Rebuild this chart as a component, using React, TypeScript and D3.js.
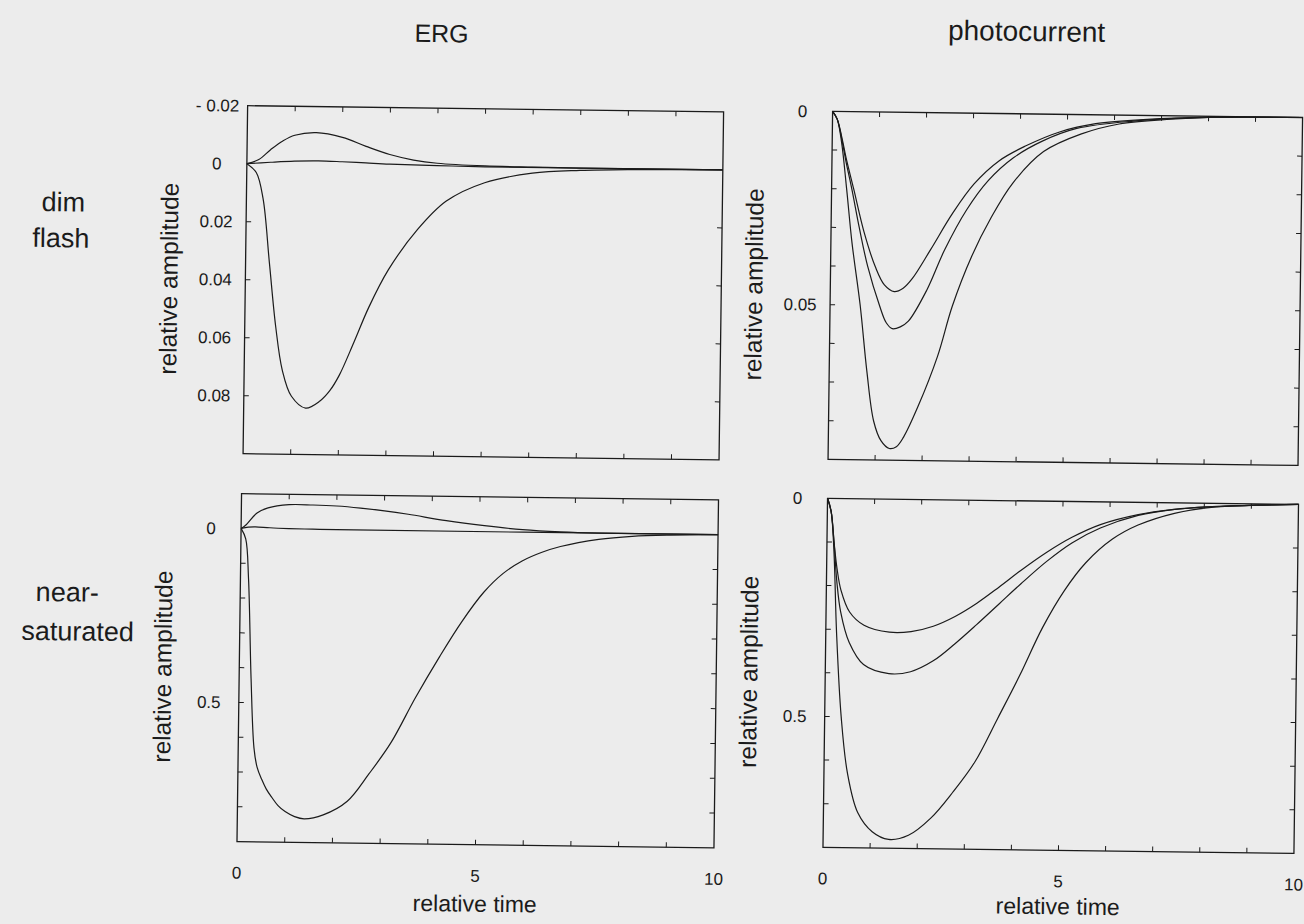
import React from 'react'
import * as d3 from 'd3'

// ---- data (time in relative units, amplitude positive downward) ----

// ERG, dim flash
const ergDimBigT = [0, 0.2, 0.35, 0.5, 0.65, 0.8, 1.0, 1.3, 1.6, 1.8, 2.0, 2.3, 2.6, 3.0, 3.6, 4.2, 5.0, 6.0, 7.0, 8.0, 10]
const ergDimBigV = [0, 0.003, 0.012, 0.034, 0.056, 0.071, 0.080, 0.084, 0.0815, 0.078, 0.0725, 0.061, 0.049, 0.036, 0.022, 0.012, 0.0055, 0.002, 0.0008, 0.0003, 0]
const ergDimHumpT = [0, 0.25, 0.5, 0.75, 1.0, 1.45, 2.0, 2.5, 3.0, 3.5, 4.0, 5.0, 6.0, 7.0, 10]
const ergDimHumpV = [0, -0.0015, -0.005, -0.008, -0.010, -0.011, -0.0095, -0.0065, -0.0038, -0.002, -0.001, -0.0003, -0.0001, 0, 0]
const ergDimSmallT = [0, 0.5, 1.0, 1.5, 2.0, 2.5, 3.0, 4.0, 5.0, 10]
const ergDimSmallV = [0, -0.0006, -0.0011, -0.0013, -0.0011, -0.0008, -0.0005, -0.0002, 0, 0]

// ERG, near-saturated
const ergSatBigT = [0, 0.1, 0.17, 0.25, 0.33, 0.4, 0.5, 0.6, 0.72, 0.85, 1.0, 1.2, 1.4, 1.8, 2.3, 2.75, 3.2, 3.7, 4.2, 4.65, 5.1, 5.5, 5.9, 6.3, 6.7, 7.5, 8.2, 9.0, 10]
const ergSatBigV = [0, 0.03, 0.145, 0.43, 0.63, 0.685, 0.72, 0.748, 0.772, 0.795, 0.812, 0.826, 0.832, 0.82, 0.78, 0.70, 0.61, 0.48, 0.36, 0.26, 0.175, 0.12, 0.083, 0.058, 0.04, 0.018, 0.008, 0.003, 0]
const ergSatHumpT = [0, 0.1, 0.33, 0.56, 1.0, 1.5, 2.0, 2.5, 3.0, 3.5, 4.3, 5.1, 5.9, 6.7, 7.5, 10]
const ergSatHumpV = [0, -0.01, -0.045, -0.06, -0.07, -0.07, -0.068, -0.063, -0.056, -0.047, -0.03, -0.017, -0.007, -0.002, 0, 0]
const ergSatSmallT = [0, 0.15, 0.3, 0.6, 1.0, 1.5, 2.0, 10]
const ergSatSmallV = [0, -0.004, -0.005, -0.003, -0.0015, -0.0005, 0, 0]

// photocurrent, dim flash
const pcDimAT = [0, 0.1, 0.2, 0.3, 0.47, 0.7, 0.95, 1.15, 1.36, 1.55, 1.74, 2.12, 2.58, 3.03, 3.56, 4.1, 4.85, 5.6, 6.7, 8.0, 10]
const pcDimAV = [0, 0.002, 0.0065, 0.012, 0.020, 0.031, 0.040, 0.0447, 0.0464, 0.0455, 0.043, 0.0355, 0.026, 0.0183, 0.0122, 0.0084, 0.0045, 0.0023, 0.001, 0.0003, 0]
const pcDimBT = [0, 0.1, 0.2, 0.3, 0.43, 0.6, 0.79, 1.05, 1.2, 1.33, 1.5, 1.67, 2.05, 2.42, 2.88, 3.33, 3.86, 4.47, 5.2, 6.4, 8.0, 10]
const pcDimBV = [0, 0.002, 0.007, 0.013, 0.020, 0.030, 0.040, 0.050, 0.0545, 0.056, 0.0555, 0.054, 0.046, 0.0355, 0.025, 0.0174, 0.0114, 0.007, 0.0036, 0.0015, 0.0003, 0]
const pcDimCT = [0, 0.1, 0.2, 0.32, 0.45, 0.64, 0.8, 0.96, 1.12, 1.3, 1.45, 1.6, 1.9, 2.3, 2.6, 3.0, 3.4, 3.85, 4.5, 5.3, 6.1, 7.2, 8.0, 10]
const pcDimCV = [0, 0.002, 0.008, 0.020, 0.034, 0.050, 0.067, 0.080, 0.085, 0.087, 0.0865, 0.084, 0.076, 0.063, 0.050, 0.037, 0.027, 0.018, 0.0097, 0.005, 0.0023, 0.0009, 0.0003, 0]

// photocurrent, near-saturated
const pcSatDeepT = [0, 0.08, 0.15, 0.23, 0.35, 0.5, 0.73, 1.04, 1.39, 1.81, 2.28, 2.74, 3.2, 3.67, 4.13, 4.6, 5.05, 5.5, 6.06, 6.6, 7.37, 8.1, 9.1, 10]
const pcSatDeepV = [0, 0.03, 0.12, 0.31, 0.50, 0.63, 0.72, 0.763, 0.78, 0.77, 0.73, 0.67, 0.60, 0.50, 0.40, 0.29, 0.205, 0.14, 0.085, 0.052, 0.024, 0.01, 0.003, 0]
const pcSatT = [0, 0.08, 0.15, 0.22, 0.31, 0.5, 0.81, 1.35, 1.81, 2.28, 2.74, 3.2, 3.67, 4.13, 4.67, 5.2, 5.8, 6.6, 7.37, 8.1, 9.1, 10]
const pcSatMidV = [0, 0.03, 0.10, 0.19, 0.26, 0.33, 0.38, 0.40, 0.395, 0.37, 0.33, 0.285, 0.237, 0.19, 0.138, 0.095, 0.06, 0.03, 0.015, 0.008, 0.003, 0]
const pcSatTopV = [0, 0.03, 0.10, 0.16, 0.21, 0.26, 0.29, 0.305, 0.303, 0.29, 0.267, 0.236, 0.198, 0.159, 0.117, 0.082, 0.052, 0.028, 0.015, 0.008, 0.003, 0]

// axis ticks and labels
const xMinorTicks = [1, 2, 3, 4, 5, 6, 7, 8, 9]
const xTickLabels = [0, 5, 10]
const ergDimYTicks = [0.02, 0.04, 0.06, 0.08]
const ergDimYLabels = [[-0.02, '- 0.02'], [0, '0'], [0.02, '0.02'], [0.04, '0.04'], [0.06, '0.06'], [0.08, '0.08']]
const ergSatYTicks = [0.1, 0.2, 0.3, 0.4, 0.5, 0.6, 0.7, 0.8]
const ergSatYLabels = [[0, '0'], [0.5, '0.5']]
const pcDimYTicks = [0.01, 0.02, 0.03, 0.04, 0.05, 0.06, 0.07, 0.08]
const pcDimYLabels = [[0, '0'], [0.05, '0.05']]
const pcSatYTicks = [0.1, 0.2, 0.3, 0.4, 0.5, 0.6, 0.7]
const pcSatYLabels = [[0, '0'], [0.5, '0.5']]

const zip = (t, v) => t.map((d, i) => [d, v[i]])

const FONT = '"Liberation Sans", Arial, Helvetica, sans-serif'
const INK = '#1b1b1b'

function Panel({ x0, x1, y0, y1, yDomain, yTicks, yLabels, curves, xLabels, timeDy = 70 }) {
  const x = d3.scaleLinear().domain([0, 10]).range([x0, x1])
  const y = d3.scaleLinear().domain(yDomain).range([y0, y1])
  const line = d3.line().x(d => x(d[0])).y(d => y(d[1])).curve(d3.curveCatmullRom.alpha(0.5))
  const tl = 5
  return (
    <g>
      <rect x={x0} y={y0} width={x1 - x0} height={y1 - y0} fill="none" stroke={INK} strokeWidth={1.3} />
      {xMinorTicks.map(t => (
        <g key={'xt' + t}>
          <line x1={x(t)} x2={x(t)} y1={y0} y2={y0 + tl} stroke={INK} strokeWidth={1} />
          <line x1={x(t)} x2={x(t)} y1={y1} y2={y1 - tl} stroke={INK} strokeWidth={1} />
        </g>
      ))}
      {yTicks.map(v => (
        <g key={'yt' + v}>
          <line x1={x0} x2={x0 + tl} y1={y(v)} y2={y(v)} stroke={INK} strokeWidth={1} />
          <line x1={x1} x2={x1 - tl} y1={y(v)} y2={y(v)} stroke={INK} strokeWidth={1} />
        </g>
      ))}
      {yLabels.map(([v, s]) => (
        <text key={'yl' + s} x={x0 - 30} y={y(v) + 6} textAnchor="middle" fontSize={17} fill={INK}>{s}</text>
      ))}
      {xLabels && xTickLabels.map(t => (
        <text key={'xl' + t} x={x(t)} y={y1 + 37} textAnchor="middle" fontSize={17} fill={INK}>{t}</text>
      ))}
      {xLabels && (
        <text x={(x0 + x1) / 2} y={y1 + timeDy} textAnchor="middle" fontSize={23} fill={INK}>relative time</text>
      )}
      <text transform={`translate(${x0 - 68},${(y0 + y1) / 2}) rotate(-90)`} textAnchor="middle" fontSize={24.5} fill={INK}>relative amplitude</text>
      {curves.map((c, i) => (
        <path key={'c' + i} d={line(c)} fill="none" stroke={INK} strokeWidth={1.2} />
      ))}
    </g>
  )
}

export default function App() {
  return (
    <svg width={1304} height={924} style={{ position: 'absolute', left: 0, top: 0 }} fontFamily={FONT}>
      <rect x={0} y={0} width={1304} height={924} fill="#ececec" />
      <g transform="rotate(0.75 652 462)">
        <text x={436} y={45} textAnchor="middle" fontSize={25} fill={INK}>ERG</text>
        <text x={1021} y={36} textAnchor="middle" fontSize={28} fill={INK}>photocurrent</text>
        <text x={60} y={219} textAnchor="middle" fontSize={27} fill={INK}>dim</text>
        <text x={58} y={255} textAnchor="middle" fontSize={27} fill={INK}>flash</text>
        <text x={69} y={609} textAnchor="middle" fontSize={27} fill={INK}>near-</text>
        <text x={80} y={648} textAnchor="middle" fontSize={27} fill={INK}>saturated</text>

        <Panel x0={243} x1={719} y0={111} y1={459} yDomain={[-0.02, 0.1]}
          yTicks={ergDimYTicks} yLabels={ergDimYLabels} xLabels={false}
          curves={[zip(ergDimBigT, ergDimBigV), zip(ergDimHumpT, ergDimHumpV), zip(ergDimSmallT, ergDimSmallV)]} />
        <Panel x0={828} x1={1298} y0={109} y1={457} yDomain={[0, 0.09]}
          yTicks={pcDimYTicks} yLabels={pcDimYLabels} xLabels={false}
          curves={[zip(pcDimAT, pcDimAV), zip(pcDimBT, pcDimBV), zip(pcDimCT, pcDimCV)]} />
        <Panel x0={242} x1={719} y0={499} y1={847} yDomain={[-0.1, 0.9]}
          yTicks={ergSatYTicks} yLabels={ergSatYLabels} xLabels={true} timeDy={67}
          curves={[zip(ergSatBigT, ergSatBigV), zip(ergSatHumpT, ergSatHumpV), zip(ergSatSmallT, ergSatSmallV)]} />
        <Panel x0={828} x1={1299} y0={496} y1={845} yDomain={[0, 0.8]}
          yTicks={pcSatYTicks} yLabels={pcSatYLabels} xLabels={true} timeDy={64}
          curves={[zip(pcSatDeepT, pcSatDeepV), zip(pcSatT, pcSatMidV), zip(pcSatT, pcSatTopV)]} />
      </g>
    </svg>
  )
}
